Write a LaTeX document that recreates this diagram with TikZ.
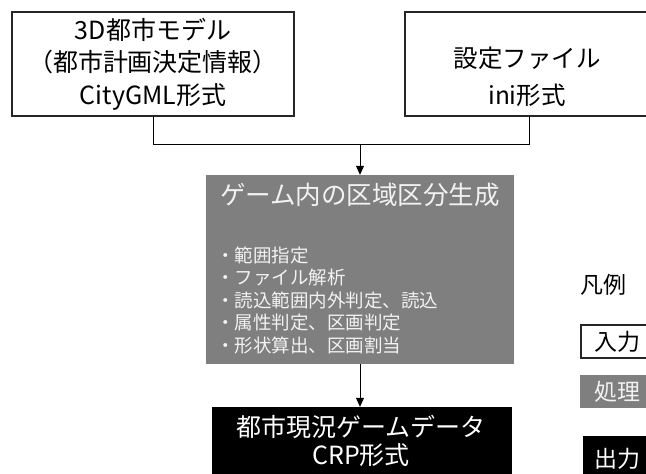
\documentclass[tikz,border=0pt]{standalone}
\usepackage{fontspec}
\setmainfont{Noto Sans CJK JP}
\usetikzlibrary{arrows.meta}
\definecolor{procgray}{HTML}{7F7F7F}
\definecolor{proctext}{HTML}{F2F2F2}
\definecolor{edgecol}{HTML}{262626}
\begin{document}
\begin{tikzpicture}[x=1pt,y=-1pt,
  inbox/.style={draw=edgecol, line width=1.5pt, fill=white, inner sep=0pt},
  procbox/.style={fill=procgray, inner sep=0pt},
  outbox/.style={fill=black, inner sep=0pt},
  txt/.style={inner sep=0pt, align=center},
  link/.style={line width=1pt, draw=black},
  flow/.style={line width=1pt, draw=black, -{Triangle[width=8pt,length=9pt]}},
  bigfont/.style={font=\fontsize{25}{32.5}\selectfont},
]
\useasboundingbox (0,0) rectangle (646,474);

% input boxes
\node[inbox, minimum width=282pt, minimum height=104pt] (in1) at (153,64) {};
\node[txt, bigfont] (in1t) at (153,64) {3D都市モデル\\（都市計画決定情報）\\CityGML形式};

\node[inbox, minimum width=248pt, minimum height=104pt] (in2) at (529,64) {};
\node[txt, font=\fontsize{24.5}{37.5}\selectfont] (in2t) at (527,77) {設定ファイル\\ini形式};

% junction
\coordinate (j) at (360,144);

% process box
\node[procbox, minimum width=308pt, minimum height=189pt] (proc) at (360,269.5) {};
\node[txt, text=proctext, font=\fontsize{25.5}{30}\selectfont] (proct) at (360,195) {ゲーム内の区域区分生成};
\node[inner sep=0pt, align=left, anchor=west, text=proctext, font=\fontsize{18.5}{22.5}\selectfont] (procl) at (216,300)
  {・範囲指定\\・ファイル解析\\・読込範囲内外判定、読込\\・属性判定、区画判定\\・形状算出、区画割当};

% output box
\node[outbox, minimum width=300pt, minimum height=72pt] (out) at (362,443) {};
\node[txt, text=white, font=\fontsize{25}{28}\selectfont] (outt) at (361,441) {都市現況ゲームデータ\\CRP形式};

% connectors
\draw[link] (in1.south) -- (in1.south |- j) -- (in2.south |- j) -- (in2.south);
\draw[flow] (j) -- (proc.north);
\draw[flow] (proc.south -| j) -- (out.north -| j);

% legend
\node[inner sep=0pt, anchor=west, font=\fontsize{23}{23}\selectfont] (leg) at (580,285) {凡例};
\node[inbox, minimum width=72pt, minimum height=33pt] (lin) at (617,341.5) {};
\node[txt, font=\fontsize{23}{23}\selectfont] (lint) at (617,342) {入力};
\node[procbox, minimum width=72pt, minimum height=33pt] (lproc) at (616,391.5) {};
\node[txt, text=proctext, font=\fontsize{23}{23}\selectfont] (lproct) at (617,392) {処理};
\node[outbox, minimum width=68pt, minimum height=42pt] (lout) at (617,457) {};
\node[txt, text=white, font=\fontsize{23}{23}\selectfont] (loutt) at (617,459) {出力};
\end{tikzpicture}
\end{document}
